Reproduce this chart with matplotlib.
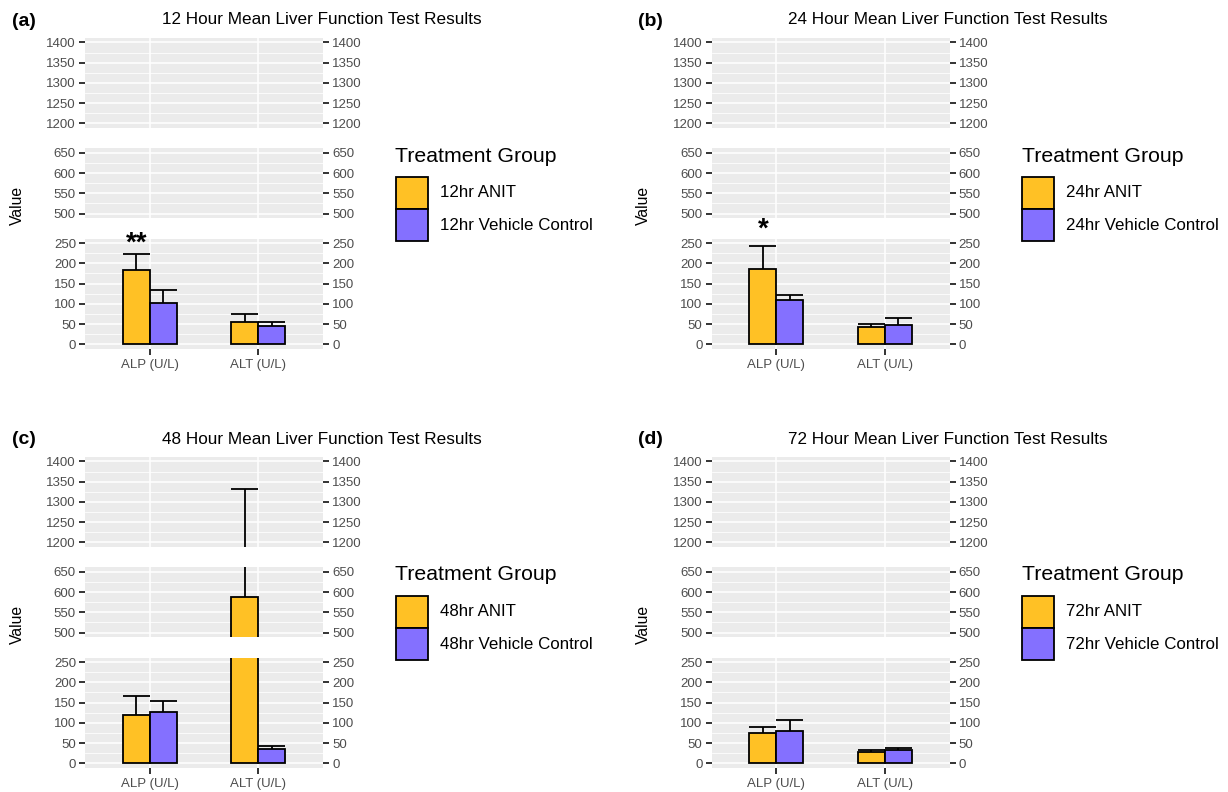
import numpy as np
import matplotlib
matplotlib.use("Agg")
import matplotlib.pyplot as plt
from matplotlib.patches import Rectangle

plt.rcParams['font.family'] = ['Liberation Sans', 'DejaVu Sans']

# mean liver function results per time point (ANIT vs vehicle control)
hours = ['12', '24', '48', '72']
panel_tags = ['(a)', '(b)', '(c)', '(d)']
tests = ['ALP (U/L)', 'ALT (U/L)']

anit_mean = [[184, 54], [186, 42], [119, 587], [75, 29]]
anit_se = [[40, 21], [57, 9], [47, 746], [14, 4]]
vehicle_mean = [[102, 44], [109, 48], [127, 35], [80, 33]]
vehicle_se = [[31, 12], [12, 17], [27, 8], [27, 4]]

# significance marks over the ANIT bars
star_text = [['**', ''], ['*', ''], ['', ''], ['', '']]
star_y = [[255, 0], [290, 0], [0, 0], [0, 0]]

# broken y axis: three ranges stacked top to bottom
y_segments = [(1200, 1400), (500, 650), (0, 250)]

ANIT_COL = '#FFC125'
VEH_COL = '#8470FF'
PANEL_BG = '#EBEBEB'

W, H = 1228, 792
fig = plt.figure(figsize=(W / 100, H / 100), dpi=100)


def px_axes(x0, y0, x1, y1):
    return fig.add_axes([x0 / W, 1 - y1 / H, (x1 - x0) / W, (y1 - y0) / H])


def fig_text(x, y, s, **kw):
    return fig.text(x / W, 1 - y / H, s, **kw)


def draw_panel(k, ox, oy):
    pad = 11
    scale = 0.405  # pixels per unit
    gap = 20.5
    top = oy + 38
    x = np.arange(1, len(tests) + 1)
    bw = 0.25
    for s, (lo, hi) in enumerate(y_segments):
        h = (hi - lo + 2 * pad) * scale
        ax = px_axes(ox + 85, top, ox + 323, top + h)
        top += h + gap
        ax.set_facecolor(PANEL_BG)
        for sp in ax.spines.values():
            sp.set_visible(False)
        ax.set_xlim(0.4, 2.6)
        ax.set_ylim(lo - pad, hi + pad)
        ax.set_yticks(np.arange(lo, hi + 1, 50))
        ax.set_yticks(np.arange(lo + 25, hi, 50), minor=True)
        ax.set_xticks(x)
        ax.set_axisbelow(True)
        ax.grid(which='major', color='white', lw=1.1)
        ax.grid(which='minor', axis='y', color='white', lw=0.55)
        ax.tick_params(axis='y', which='major', left=True, right=True,
                       labelleft=True, labelright=True, length=4.5, width=1.4,
                       color='#333333', labelcolor='#4D4D4D', labelsize=9.5, pad=2)
        ax.tick_params(axis='y', which='minor', length=0)
        last = s == len(y_segments) - 1
        if last:
            ax.set_xticklabels(tests)
            ax.tick_params(axis='x', length=4.5, width=1.4, color='#333333',
                           labelcolor='#4D4D4D', labelsize=9.5, pad=3)
        else:
            ax.tick_params(axis='x', bottom=False, labelbottom=False)

        ax.bar(x - bw / 2, anit_mean[k], bw, color=ANIT_COL, edgecolor='black', lw=1.3, zorder=3)
        ax.bar(x + bw / 2, vehicle_mean[k], bw, color=VEH_COL, edgecolor='black', lw=1.3, zorder=3)
        for xs, m, e in [(x - bw / 2, anit_mean[k], anit_se[k]),
                         (x + bw / 2, vehicle_mean[k], vehicle_se[k])]:
            m = np.array(m)
            e = np.array(e)
            ax.vlines(xs, m, m + e, color='black', lw=1.3, zorder=2)
            ax.hlines(m + e, xs - bw / 2, xs + bw / 2, color='black', lw=1.3, zorder=2)

        if last:
            for i in range(len(tests)):
                if star_text[k][i]:
                    ax.text(x[i] - bw / 2, star_y[k][i], star_text[k][i], ha='center',
                            va='center_baseline', fontsize=20, fontweight='bold',
                            clip_on=False)

    fig_text(ox + 12, oy + 21, panel_tags[k], fontsize=14, fontweight='bold',
             va='center', ha='left')
    fig_text(ox + 162, oy + 20, hours[k] + ' Hour Mean Liver Function Test Results',
             fontsize=12.3, va='center', ha='left')
    fig_text(ox + 17, oy + 205, 'Value', rotation=90, fontsize=11.3,
             va='center', ha='center')

    # legend: title, stacked keys, labels
    fig_text(ox + 395, oy + 156, 'Treatment Group', fontsize=15.3,
             va='center', ha='left')
    labels = [hours[k] + 'hr ANIT', hours[k] + 'hr Vehicle Control']
    key_top = oy + 176.7
    key = 32.2
    for j, (col, lab) in enumerate(zip([ANIT_COL, VEH_COL], labels)):
        y0 = key_top + j * key
        fig.add_artist(Rectangle(((ox + 395.7) / W, 1 - (y0 + key) / H), key / W, key / H,
                                 transform=fig.transFigure, facecolor=col,
                                 edgecolor='black', lw=1.3))
        fig_text(ox + 440, y0 + key / 2, lab, fontsize=12.2, va='center', ha='left')


offsets = [(0, 0), (626.5, 0), (0, 419), (626.5, 419)]
for k, (ox, oy) in enumerate(offsets):
    draw_panel(k, ox, oy)

fig.savefig('out.png', dpi=100)
